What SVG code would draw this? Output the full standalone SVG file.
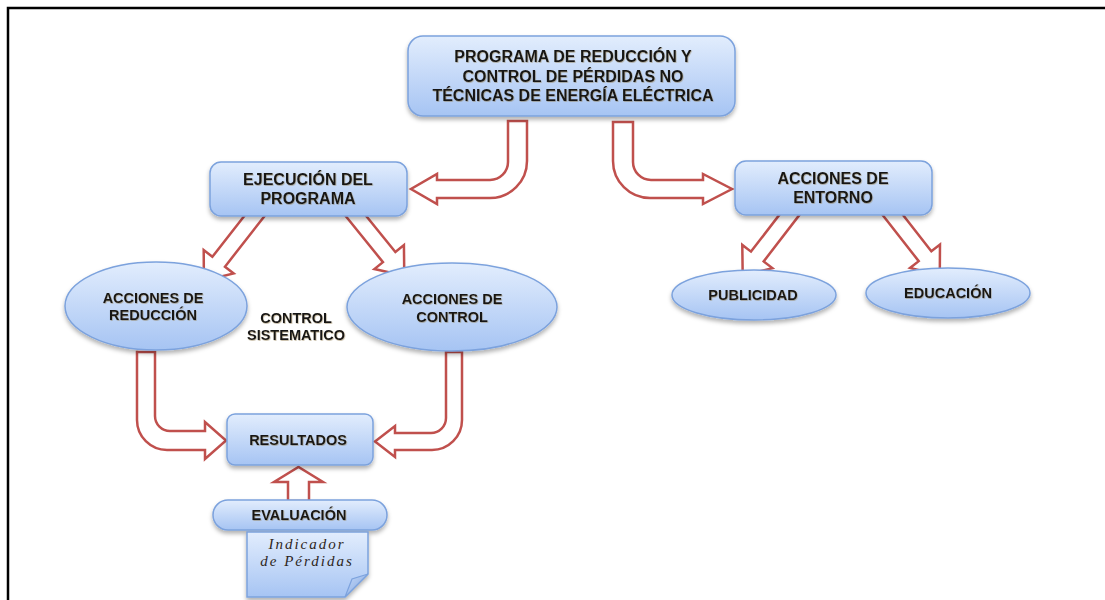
<svg xmlns="http://www.w3.org/2000/svg" width="1105" height="600" viewBox="0 0 1105 600">
  <defs>
    <linearGradient id="blueFill" x1="0" y1="0" x2="0" y2="1">
      <stop offset="0" stop-color="#e2edfd"/>
      <stop offset="1" stop-color="#a6c4f3"/>
    </linearGradient>
    <linearGradient id="foldFill" x1="0" y1="0" x2="1" y2="1">
      <stop offset="0" stop-color="#c6dafa"/>
      <stop offset="1" stop-color="#7fa3dc"/>
    </linearGradient>
    <filter id="shadow" x="-10%" y="-10%" width="120%" height="140%">
      <feDropShadow dx="0" dy="3" stdDeviation="2" flood-color="#000" flood-opacity="0.3"/>
    </filter>
    <filter id="glow" x="-5%" y="-30%" width="110%" height="160%">
      <feDropShadow dx="0.6" dy="0.8" stdDeviation="0.7" flood-color="#8a7448" flood-opacity="0.55"/>
    </filter>
  </defs>
  <style>
    .node { fill: url(#blueFill); stroke: #7ca2dd; stroke-width: 1.5; filter: url(#shadow); }
    .arrow { fill: #ffffff; stroke: #c0504d; stroke-width: 2.5; stroke-linejoin: miter; }
    .lbl { font-family: "Liberation Sans", Arial, sans-serif; font-weight: bold; fill: #151515; text-anchor: middle; filter: url(#glow); }
    .big { font-size: 16px; }
    .mid { font-size: 14.5px; }
    .note { font-family: "Liberation Serif", "DejaVu Serif", serif; font-style: italic; font-size: 15px; fill: #2e261c; text-anchor: middle; letter-spacing: 2px; }
    .frame { stroke: #000; stroke-width: 2.5; fill: none; }
  </style>

  <rect width="1105" height="600" fill="#ffffff"/>

  <!-- page frame -->
  <path class="frame" d="M8,600 L8,8 L1105,8"/>

  <!-- block-arrow connectors -->
  <g id="connectors">
    <!-- programa -> ejecucion -->
    <path class="arrow" d="M508,121 L527,121 L527,161 A37,37 0 0 1 490,198 L437,198 L437,204 L411,189 L437,174 L437,180 L490,180 A18,18 0 0 0 508,162 Z"/>
    <!-- programa -> entorno -->
    <path class="arrow" d="M613,122 L613,161 A37,37 0 0 0 650,198 L703,198 L703,204 L732,189 L703,174 L703,180 L651,180 A18,18 0 0 1 633,162 L633,122 Z"/>
    <!-- ejecucion -> reduccion -->
    <polygon class="arrow" transform="translate(263,205) rotate(128)" points="0,-8 72,-8 72,-19 96,0 72,19 72,8 0,8"/>
    <!-- ejecucion -> control -->
    <polygon class="arrow" transform="translate(347,205) rotate(51)" points="0,-8 67,-8 67,-19 91,0 67,19 67,8 0,8"/>
    <!-- entorno -> publicidad -->
    <polygon class="arrow" transform="translate(797,205) rotate(127.6)" points="0,-8 65,-8 65,-19 89,0 65,19 65,8 0,8"/>
    <!-- entorno -> educacion -->
    <polygon class="arrow" transform="translate(885,205) rotate(52)" points="0,-8 65,-8 65,-19 89,0 65,19 65,8 0,8"/>
    <!-- reduccion -> resultados -->
    <path class="arrow" d="M137,352 L137,420 A30,30 0 0 0 167,450 L205,450 L205,459 L226,440.5 L205,422 L205,431 L170,431 A15,15 0 0 1 155,416 L155,352 Z"/>
    <!-- control -> resultados -->
    <path class="arrow" d="M462,352 L462,420 A30,30 0 0 1 432,450 L395,450 L395,457 L375,441.5 L395,426 L395,433 L431,433 A15,15 0 0 0 446,418 L446,352 Z"/>
    <!-- evaluacion -> resultados -->
    <path class="arrow" d="M288,501 L288,482 L274,482 L298.5,467 L323,482 L309,482 L309,501 Z"/>
  </g>

  <g id="programa">
    <rect class="node" x="408" y="36" width="327" height="80" rx="15"/>
    <text class="lbl big" x="573" y="62">PROGRAMA DE REDUCCIÓN Y</text>
    <text class="lbl big" x="573" y="82">CONTROL DE PÉRDIDAS NO</text>
    <text class="lbl big" x="573" y="101">TÉCNICAS DE ENERGÍA ELÉCTRICA</text>
  </g>

  <g id="ejecucion">
    <rect class="node" x="210" y="162" width="197" height="54" rx="11"/>
    <text class="lbl big" x="308" y="185">EJECUCIÓN DEL</text>
    <text class="lbl big" x="308" y="204">PROGRAMA</text>
  </g>

  <g id="entorno">
    <rect class="node" x="735" y="161" width="197" height="54" rx="11"/>
    <text class="lbl big" x="833" y="184">ACCIONES DE</text>
    <text class="lbl big" x="833" y="203">ENTORNO</text>
  </g>

  <g id="publicidad">
    <ellipse class="node" cx="754" cy="295" rx="82" ry="25"/>
    <text class="lbl mid" x="753" y="300">PUBLICIDAD</text>
  </g>

  <g id="educacion">
    <ellipse class="node" cx="948" cy="293" rx="82" ry="25"/>
    <text class="lbl mid" x="948" y="298">EDUCACIÓN</text>
  </g>

  <g id="reduccion">
    <ellipse class="node" cx="156" cy="306" rx="91" ry="44"/>
    <text class="lbl mid" x="153" y="303">ACCIONES DE</text>
    <text class="lbl mid" x="153" y="320">REDUCCIÓN</text>
  </g>

  <g id="control">
    <ellipse class="node" cx="452" cy="307" rx="105" ry="44"/>
    <text class="lbl mid" x="452" y="304">ACCIONES DE</text>
    <text class="lbl mid" x="452" y="322">CONTROL</text>
  </g>

  <g id="sistematico">
    <text class="lbl mid" x="296" y="323">CONTROL</text>
    <text class="lbl mid" x="296" y="340">SISTEMATICO</text>
  </g>

  <g id="resultados">
    <rect class="node" x="227" y="414" width="146" height="51" rx="8"/>
    <text class="lbl mid" x="298" y="445">RESULTADOS</text>
  </g>

  <g id="evaluacion">
    <rect class="node" x="213" y="500" width="174" height="30" rx="15"/>
    <text class="lbl mid" x="299" y="520">EVALUACIÓN</text>
  </g>

  <g id="indicador">
    <path class="node" d="M247,532 L368,532 L368,574 L345,597 L247,597 Z"/>
    <path d="M368,574 L352,579 L345,597 Z" fill="url(#foldFill)" stroke="#7ca2dd" stroke-width="1.2"/>
    <text class="note" x="307" y="549">Indicador</text>
    <text class="note" x="307" y="566">de Pérdidas</text>
  </g>
</svg>
